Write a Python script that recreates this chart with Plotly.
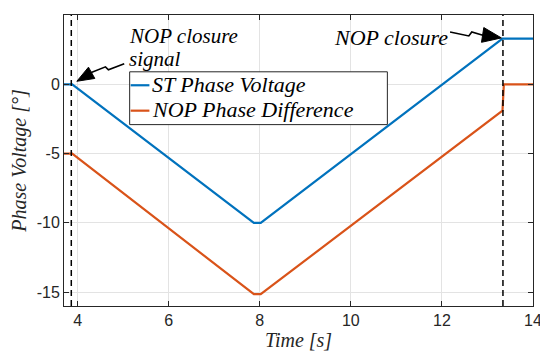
import plotly.graph_objects as go

# ---- data ----
time_st = [3.7, 3.88, 7.87, 8.02, 13.33, 14.0]
st_phase_voltage = [0.0, 0.0, -10.0, -10.0, 3.3, 3.3]

time_nop = [3.7, 3.88, 7.87, 8.02, 13.33, 13.36, 14.0]
nop_phase_difference = [-5.0, -5.0, -15.15, -15.15, -1.9, 0.0, 0.0]

series_names = ["ST Phase Voltage", "NOP Phase Difference"]
event_times = [3.86, 13.34]          # NOP closure signal, NOP closure
x_ticks = [4, 6, 8, 10, 12, 14]
y_ticks = [5, 0, -5, -10, -15]
y_tick_labels = ["5", "0", "-5", "-10", "-15"]

X_RANGE = [3.7, 14.0]
Y_RANGE = [-16.0, 5.0]

# ---- layout geometry ----
# page body has an 8px default margin, so the figure is offset by (8, 8)
OFF = 8
W, H = 548 - OFF, 356 - OFF
ML, MR, MT, MB = 64 - OFF, 9, 14 - OFF, 50
PW, PH = W - ML - MR, H - MT - MB


def px2d(px, py):
    """Convert a page pixel position to data coordinates."""
    px -= OFF
    py -= OFF
    x = X_RANGE[0] + (px - ML) / PW * (X_RANGE[1] - X_RANGE[0])
    y = Y_RANGE[1] - (py - MT) / PH * (Y_RANGE[1] - Y_RANGE[0])
    return x, y


def path_from_px(points, close=False):
    parts = []
    for i, (px, py) in enumerate(points):
        x, y = px2d(px, py)
        parts.append(("M" if i == 0 else "L") + f"{x:.4f},{y:.4f}")
    if close:
        parts.append("Z")
    return " ".join(parts)


def head_px(tip, back, half):
    tx, ty = tip
    bx, by = back
    dx, dy = tx - bx, ty - by
    n = (dx * dx + dy * dy) ** 0.5
    nx, ny = -dy / n, dx / n
    return [(tx, ty), (bx + nx * half, by + ny * half), (bx - nx * half, by - ny * half)]


BLUE = "#0072BD"
ORANGE = "#D95319"
COLORS = [BLUE, ORANGE]
AX = "#262626"
GRID = "#e3e3e3"
SERIF = "Liberation Serif"

fig = go.Figure()
fig.add_trace(go.Scatter(x=time_st, y=st_phase_voltage, mode="lines",
                         line=dict(color=BLUE, width=2.2),
                         name=series_names[0], showlegend=False))
fig.add_trace(go.Scatter(x=time_nop, y=nop_phase_difference, mode="lines",
                         line=dict(color=ORANGE, width=2.2),
                         name=series_names[1], showlegend=False))

shapes = []
for t in event_times:
    shapes.append(dict(type="line", xref="x", yref="paper", x0=t, x1=t, y0=0, y1=1,
                       line=dict(color="black", width=1.5, dash="6px,4px")))

# lightning-style arrows
left_zig = [(125, 63), (109, 69), (106, 66), (91, 72)]
left_head = head_px((77, 80.5), (92, 72), 6.5)
right_zig = [(455, 31), (474, 35), (477, 31), (489, 34.5)]
right_head = head_px((507, 37), (488, 34), 7.5)
for zig, head in [(left_zig, left_head), (right_zig, right_head)]:
    shapes.append(dict(type="path", xref="x", yref="y", path=path_from_px(zig),
                       line=dict(color="black", width=1.6)))
    shapes.append(dict(type="path", xref="x", yref="y", path=path_from_px(head, close=True),
                       fillcolor="black", line=dict(color="black", width=1)))

# legend box (drawn by hand to match the compact MATLAB legend)
bx0, by0 = px2d(130.5, 71)
bx1, by1 = px2d(391.5, 124)
shapes.append(dict(type="rect", xref="x", yref="y", x0=bx0, y0=by0, x1=bx1, y1=by1,
                   fillcolor="white", line=dict(color=AX, width=1)))
legend_rows_py = [84.5, 110]
annotations = []
leg_font = dict(family=SERIF, size=22, color="black", style="italic")
for name, col, py in zip(series_names, COLORS, legend_rows_py):
    sx0, sy = px2d(131.5, py)
    sx1, _ = px2d(150.5, py)
    shapes.append(dict(type="line", xref="x", yref="y", x0=sx0, x1=sx1, y0=sy, y1=sy,
                       line=dict(color=col, width=2.2)))
    tx, ty = px2d(151, py - 1)
    annotations.append(dict(x=tx, y=ty, xref="x", yref="y", text=name, showarrow=False,
                            xanchor="left", yanchor="middle", font=leg_font))

ann_font = dict(family=SERIF, size=21, color="black", style="italic")
l1x, l1y = px2d(129, 35)
l2x, l2y = px2d(129, 58)
rx, ry = px2d(455, 37)
annotations += [
    dict(x=l1x, y=l1y, xref="x", yref="y", text="NOP closure", showarrow=False,
         xanchor="left", yanchor="middle", font=ann_font, borderpad=0),
    dict(x=l2x, y=l2y, xref="x", yref="y", text="signal", showarrow=False,
         xanchor="left", yanchor="middle", font=ann_font, borderpad=0),
    dict(x=rx, y=ry, xref="x", yref="y", text="NOP closure", showarrow=False,
         xanchor="right", yanchor="middle", font=dict(ann_font, size=22)),
]

fig.update_layout(
    width=W, height=H,
    margin=dict(l=ML, r=MR, t=MT, b=MB),
    paper_bgcolor="white", plot_bgcolor="white",
    shapes=shapes, annotations=annotations,
    showlegend=False,
)
fig.update_xaxes(range=X_RANGE, tickvals=x_ticks, ticks="inside", ticklen=5,
                 tickcolor=AX, showline=True, linecolor=AX, linewidth=1, mirror="ticks",
                 showgrid=True, gridcolor=GRID, zeroline=False,
                 tickfont=dict(family="Liberation Sans", size=16, color=AX),
                 title=dict(text="Time [s]", standoff=4,
                            font=dict(family=SERIF, size=20, color=AX, style="italic")))
fig.update_yaxes(range=Y_RANGE, tickvals=y_ticks, ticktext=y_tick_labels, ticks="inside",
                 ticklen=5, tickcolor=AX, showline=True, linecolor=AX, linewidth=1,
                 mirror="ticks", showgrid=True, gridcolor=GRID, zeroline=False,
                 tickfont=dict(family="Liberation Sans", size=16, color=AX),
                 title=dict(text="Phase Voltage [°]", standoff=6,
                            font=dict(family=SERIF, size=20, color=AX, style="italic")))

fig.write_html("out.html")
